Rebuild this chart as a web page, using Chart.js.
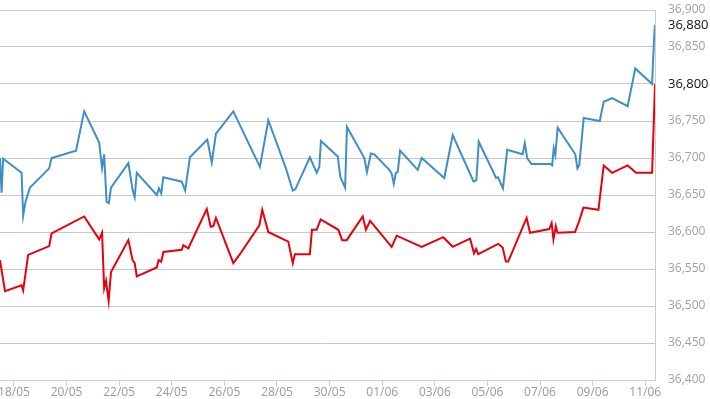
<!DOCTYPE html>
<html>
<head>
<meta charset="utf-8">
<script src="https://cdn.jsdelivr.net/npm/chart.js@4.4.1/dist/chart.umd.min.js"></script>
<style>
  html, body { margin: 0; padding: 0; background: #fff; overflow: hidden; }
  #wrap { width: 710px; height: 399px; position: relative; }
</style>
</head>
<body>
<div id="wrap"><canvas id="chart" width="710" height="399"></canvas></div>
<script>
// x values are days counted from 18/05 00:00
const dateLabels = ["18/05", "20/05", "22/05", "24/05", "26/05", "28/05", "30/05", "01/06", "03/06", "05/06", "07/06", "09/06", "11/06"];
const yTickValues = [36400, 36450, 36500, 36550, 36600, 36650, 36700, 36750, 36800, 36850, 36900];

const blueDays = [-0.53, -0.47, -0.41, 0.29, 0.35, 0.44, 0.61, 1.34, 1.43, 2.36, 2.67, 3.24, 3.35, 3.43, 3.52, 3.61, 3.69,
  4.35, 4.51, 4.59, 4.67, 5.43, 5.51, 5.60, 5.68, 6.38, 6.51, 6.69, 7.35, 7.52, 7.68, 8.34, 9.35, 9.67, 10.34, 10.60,
  10.70, 11.25, 11.51, 11.61, 11.67, 12.31, 12.41, 12.59, 12.66, 13.32, 13.42, 13.57, 13.70, 14.27, 14.36, 14.44, 14.52,
  14.59, 14.68, 15.35, 15.50, 16.36, 16.68, 17.45, 17.48, 17.58, 17.67, 18.33, 18.40, 18.59, 18.75, 19.34, 19.42, 19.51,
  19.67, 20.39, 20.46, 20.52, 20.58, 20.67, 21.34, 21.42, 21.49, 21.66, 22.27, 22.42, 22.74, 23.33, 23.62, 24.26, 24.33, 24.37];
const blueVals = [36700, 36653, 36699, 36680, 36622, 36641, 36660, 36686, 36700, 36710, 36763, 36721, 36686, 36705, 36641, 36639, 36660,
  36693, 36657, 36647, 36680, 36650, 36659, 36652, 36674, 36668, 36656, 36701, 36725, 36694, 36733, 36763, 36688, 36751, 36686, 36656,
  36658, 36701, 36680, 36688, 36723, 36702, 36674, 36660, 36742, 36700, 36681, 36706, 36705, 36684, 36679, 36665, 36680,
  36681, 36710, 36684, 36700, 36673, 36731, 36670, 36668, 36670, 36722, 36673, 36674, 36659, 36711, 36705, 36720, 36700,
  36692, 36692, 36690, 36713, 36704, 36741, 36705, 36686, 36690, 36754, 36750, 36776, 36781, 36770, 36821, 36800, 36859, 36880];

const redDays = [-0.53, -0.34, 0.29, 0.35, 0.54, 1.34, 1.43, 2.67, 3.24, 3.35, 3.43, 3.50, 3.60, 3.69, 4.35, 4.51, 4.59, 4.67,
  5.43, 5.50, 5.60, 5.68, 6.38, 6.44, 6.63, 7.33, 7.48, 7.58, 7.68, 8.34, 8.59, 9.33, 9.44, 9.67, 10.43, 10.60, 10.68, 11.25,
  11.33, 11.51, 11.66, 12.33, 12.48, 12.65, 13.26, 13.38, 13.54, 14.36, 14.55, 15.50, 16.32, 16.68, 17.34, 17.49, 17.57, 17.65,
  18.41, 18.58, 18.70, 18.79, 19.49, 19.62, 20.35, 20.44, 20.51, 20.60, 20.66, 21.33, 21.49, 21.65, 22.22, 22.42, 22.74, 23.33,
  23.65, 24.26, 24.37];
const redVals = [36562, 36520, 36528, 36521, 36569, 36581, 36598, 36621, 36590, 36599, 36524, 36534, 36507, 36546, 36589, 36562, 36558, 36540,
  36552, 36562, 36560, 36573, 36576, 36582, 36578, 36631, 36607, 36608, 36619, 36558, 36570, 36609, 36630, 36600, 36587, 36558, 36570, 36570,
  36603, 36603, 36617, 36603, 36589, 36589, 36621, 36603, 36615, 36580, 36595, 36580, 36593, 36580, 36591, 36571, 36577, 36570,
  36584, 36579, 36560, 36560, 36619, 36599, 36604, 36612, 36590, 36608, 36599, 36600, 36615, 36633, 36630, 36690, 36680, 36690,
  36680, 36680, 36800];

const lastVals = [blueVals[blueVals.length - 1], redVals[redVals.length - 1]];

function toPoints(xs, ys) {
  return xs.map((x, i) => ({ x: x, y: ys[i] }));
}

const data = {
  datasets: [
    {
      label: "blue",
      data: toPoints(blueDays, blueVals),
      borderColor: "#3f8fc6",
      borderWidth: 2,
      pointRadius: 0,
      tension: 0,
    },
    {
      label: "red",
      data: toPoints(redDays, redVals),
      borderColor: "#e8000c",
      borderWidth: 2,
      pointRadius: 0,
      tension: 0,
    },
  ],
};

const config = {
  type: "line",
  data: data,
  options: {
    responsive: false,
    animation: false,
    layout: { padding: { top: 10, left: 0, right: 0, bottom: 0 } },
    plugins: {
      legend: { display: false },
      tooltip: { enabled: false },
    },
    scales: {
      x: {
        type: "linear",
        min: blueDays[0],
        max: blueDays[blueDays.length - 1],
        afterBuildTicks: function (scale) {
          scale.ticks = dateLabels.map((l, i) => ({ value: i * 2 }));
        },
        afterFit: function (scale) {
          scale.paddingLeft = 0;
          scale.paddingRight = 0;
          scale.height = 19;
        },
        grid: {
          drawOnChartArea: false,
          drawTicks: true,
          tickLength: 6,
          color: "#c0d0e0",
        },
        border: { color: "#c0d0e0", width: 1 },
        ticks: {
          autoSkip: false,
          maxRotation: 0,
          padding: -1,
          color: "#999999",
          font: { family: "'Open Sans'", size: 12 },
          callback: function (value) {
            return dateLabels[Math.round(value / 2)];
          },
        },
      },
      y: {
        position: "right",
        min: 36400,
        max: 36900,
        afterBuildTicks: function (scale) {
          const vals = yTickValues.concat(lastVals.filter((v) => yTickValues.indexOf(v) < 0));
          scale.ticks = vals.map((v) => ({ value: v }));
        },
        afterFit: function (scale) {
          scale.width = 55;
          scale.paddingTop = 0;
          scale.paddingBottom = 0;
        },
        grid: {
          drawTicks: false,
          color: function (ctx) {
            if (ctx.tick && yTickValues.indexOf(ctx.tick.value) < 0) return "rgba(0,0,0,0)";
            return "#c8c8c8";
          },
        },
        border: { color: "#cccccc", width: 1 },
        ticks: {
          autoSkip: false,
          padding: 13,
          color: function (ctx) {
            return lastVals.indexOf(ctx.tick.value) >= 0 ? "#111111" : "#a0a0a0";
          },
          font: function (ctx) {
            const hi = ctx.tick && lastVals.indexOf(ctx.tick.value) >= 0;
            return { family: "'Open Sans'", size: hi ? 13 : 12 };
          },
          callback: function (value) {
            return value.toLocaleString("en-US");
          },
        },
      },
    },
  },
};

const chart = new Chart(document.getElementById("chart"), config);
</script>
</body>
</html>
